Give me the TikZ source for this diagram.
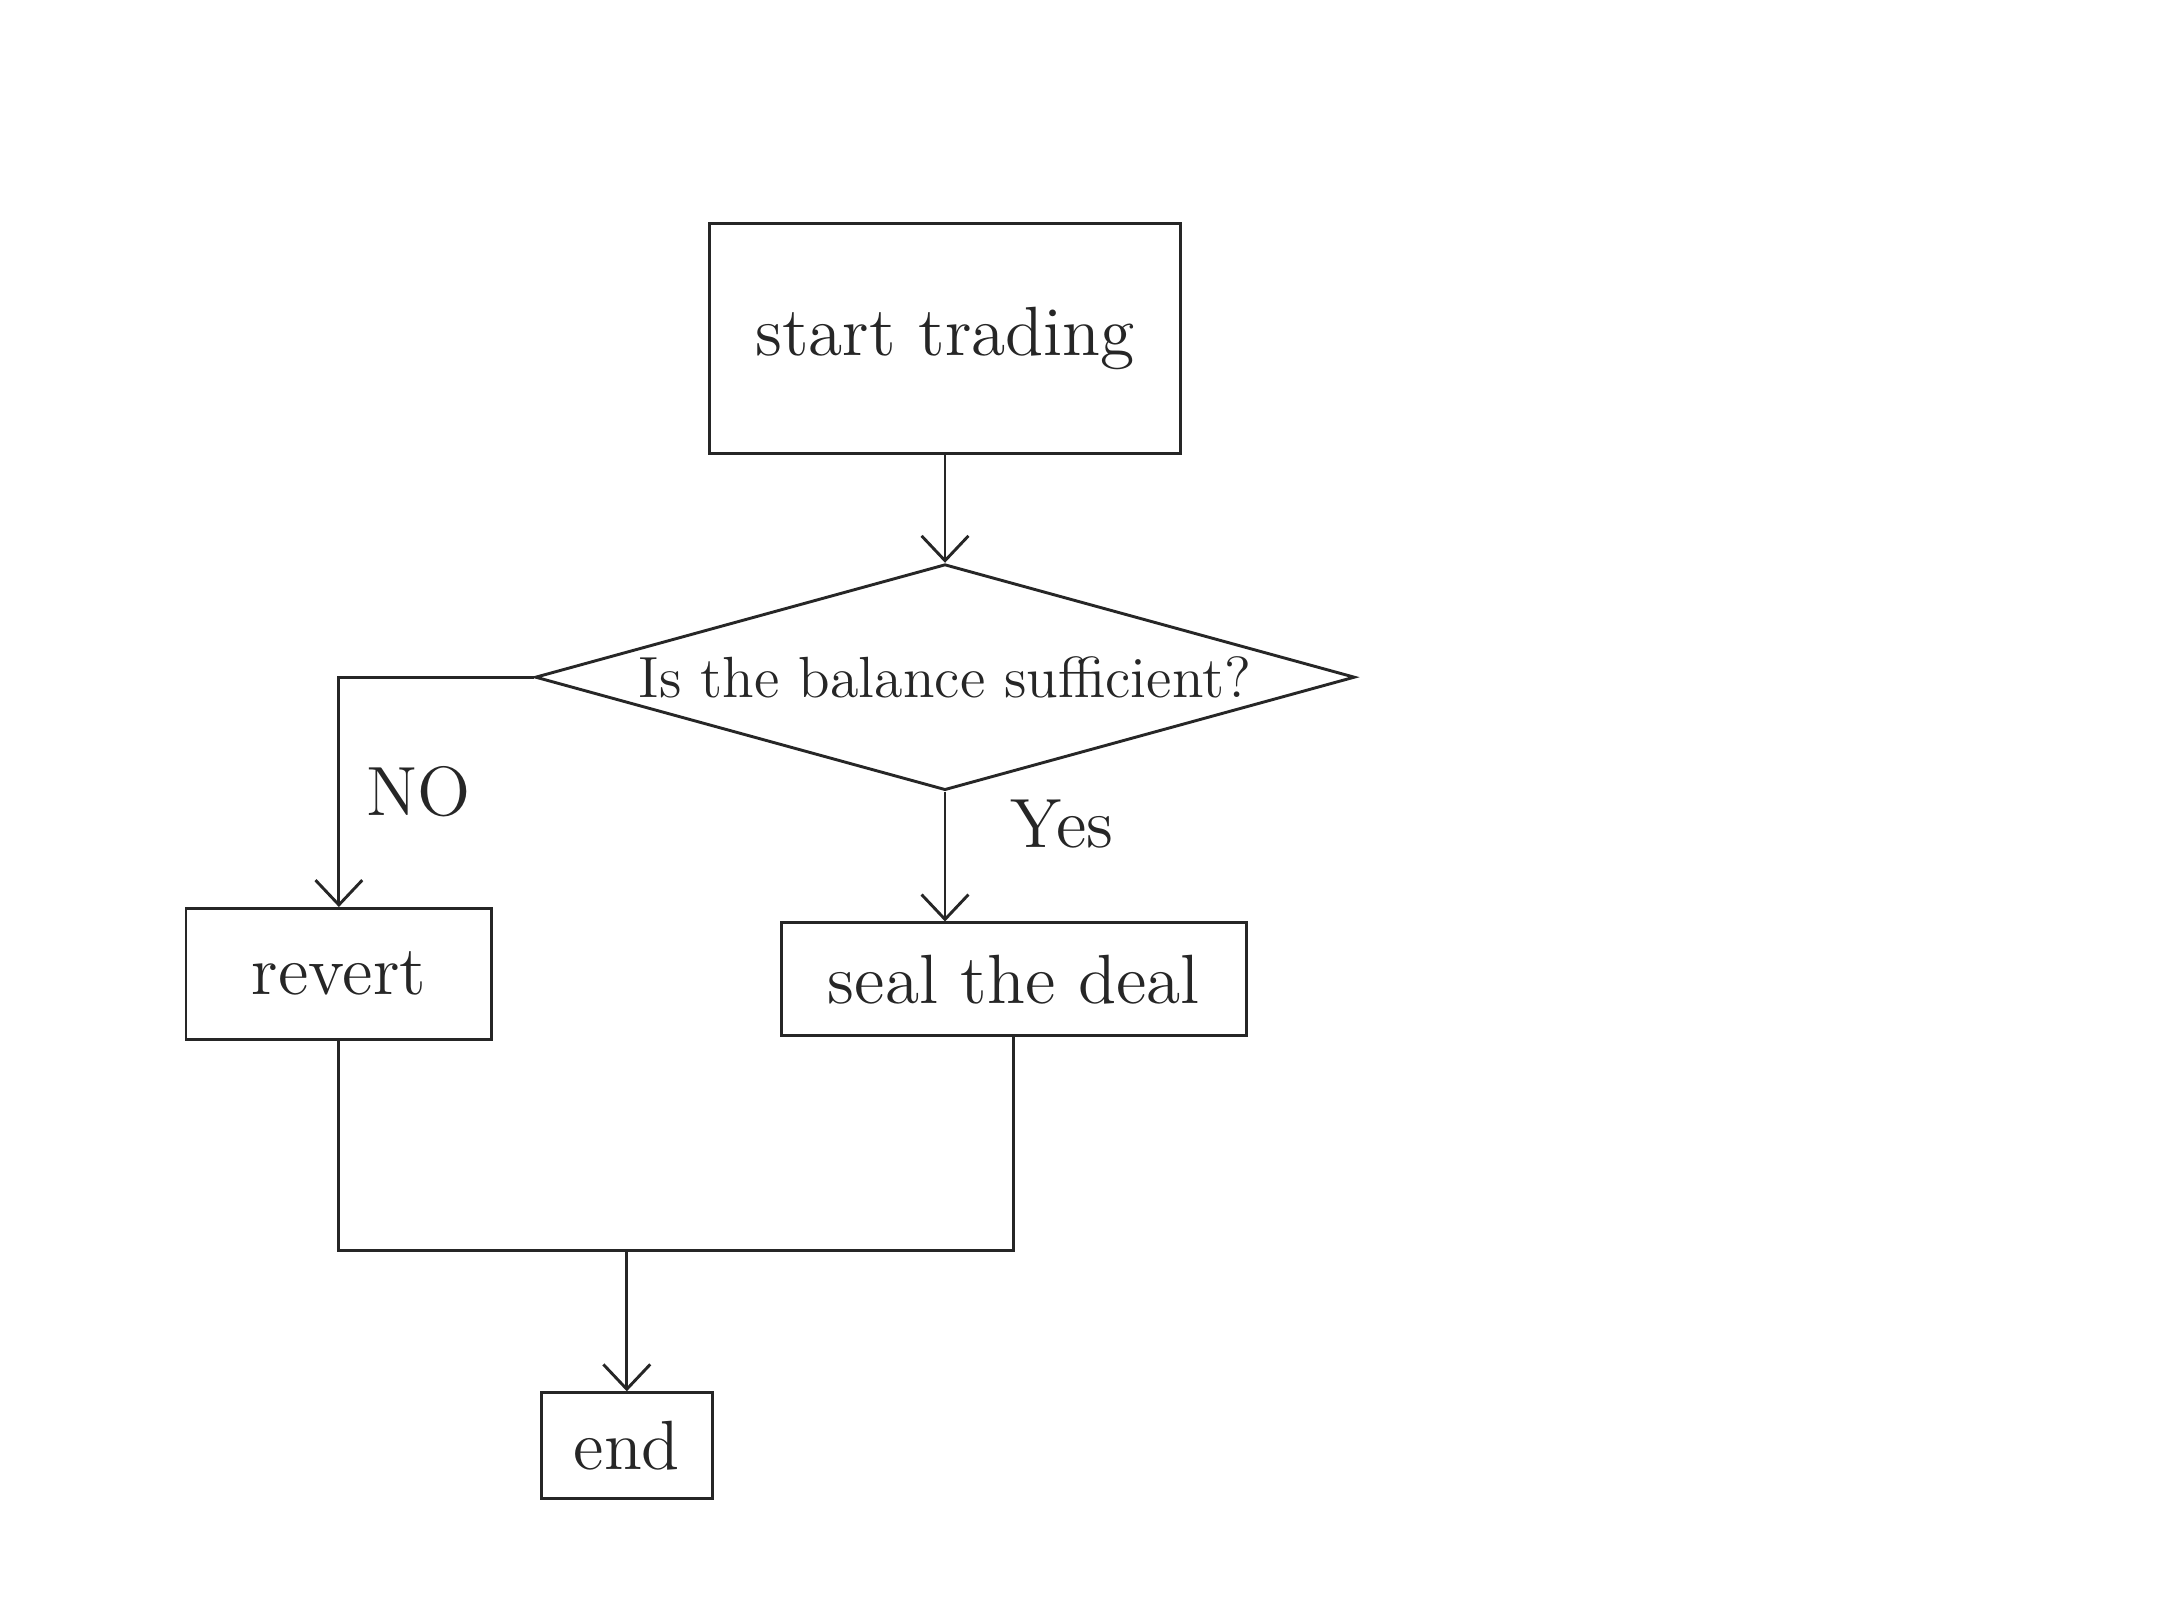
\documentclass[tikz,border=0pt]{standalone}
\usepackage{tikz}
\usetikzlibrary{shapes.geometric, arrows.meta, positioning}
\tikzset{every node/.style={font=\Large, text=black!85}, % Text size of all labels
process/.style={ % Boxes for the steps
draw=black!85, semithick,
rectangle, inner sep=0pt},
decision/.style={ % The question diamond
draw=black!85, semithick,
diamond, inner sep=0pt,
minimum width=5.95cm, minimum height=1.64cm},
flow/.style={ % Directed connectors with open heads
draw=black!85, semithick,
-{Straight Barb[length=1.8mm,width=3.4mm]}},
mergeline/.style={ % Lines that meet before the end
draw=black!85, semithick}}

\begin{document}
\begin{tikzpicture}

    \useasboundingbox[fill=white] (0,0) rectangle (15.68,11.76);

    \node[process, minimum width=3.42cm, minimum height=1.67cm] (start) at (6.86,9.30) {start trading};
    \node[decision, below=0.78cm of start] (check) {};
    \node[font=\large] (question) at (check.center) {Is the balance sufficient?};
    \node[process, minimum width=2.22cm, minimum height=0.95cm] (revert) at (2.46,4.69) {revert};
    \node[process, minimum width=3.38cm, minimum height=0.82cm] (seal) at (7.36,4.65) {seal the deal};
    \coordinate (merge) at (4.55,2.68);
    \node[process, minimum width=1.24cm, minimum height=0.77cm, below=1.02cm of merge] (finish) {end};

    \draw[flow] (start) -- (check);
    \draw[flow] (check.west) -| node[pos=0.75, right, xshift=2pt] {NO} (revert.north);
    \draw[flow] (check.south) -- node[pos=0.25, right, xshift=0.35cm] {Yes} (check.south |- seal.north);
    \draw[mergeline] (revert.south) |- (merge);
    \draw[mergeline] (seal.south) |- (merge);
    \draw[flow] (merge) -- (finish);

\end{tikzpicture}
\end{document}
